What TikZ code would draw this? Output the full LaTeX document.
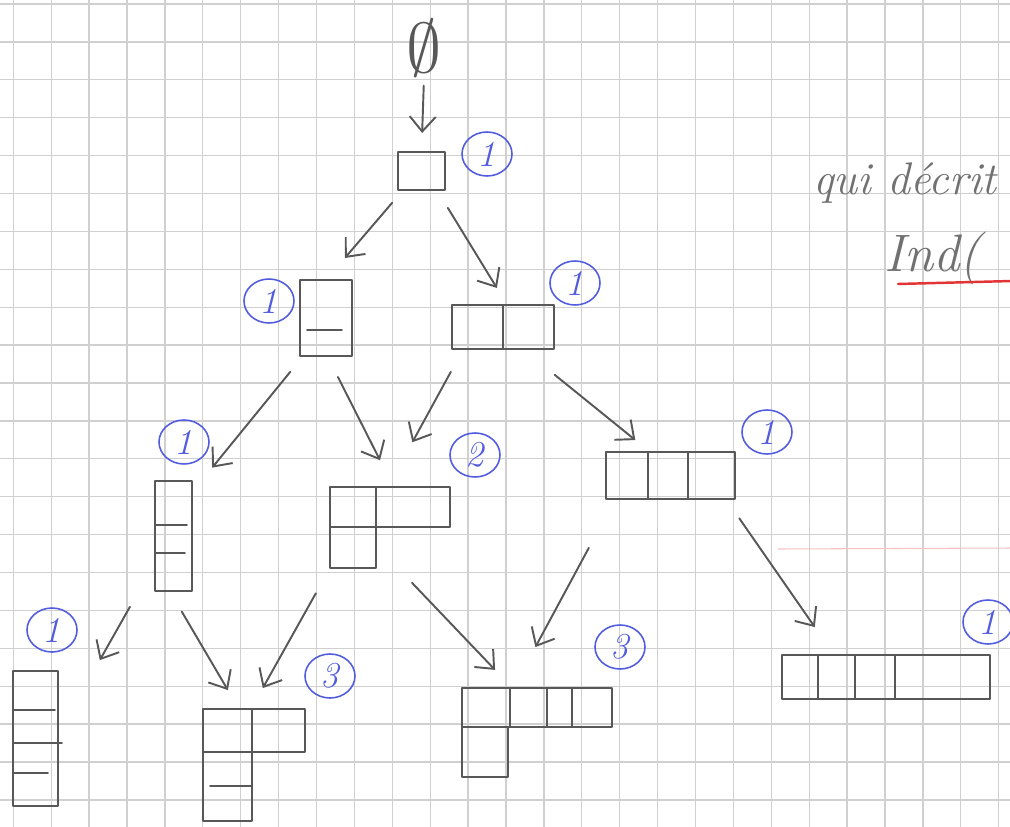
\documentclass[tikz,border=0pt]{standalone}
\usepackage{amsmath,amssymb}
\usepackage{xcolor}
\usepackage{tikz}
\usetikzlibrary{arrows.meta,positioning,calc,shapes.geometric}

\definecolor{pencil}{RGB}{88,88,88}
\definecolor{ink}{RGB}{82,92,222}
\definecolor{gridgray}{RGB}{208,208,208}
\definecolor{redpen}{RGB}{226,52,52}

\begin{document}
\begin{tikzpicture}[
  x=0.02cm, y=-0.02cm,
  >={Straight Barb[length=0.3cm, width=0.52cm]},
  pencil/.style={draw=pencil, line width=1.1pt, line cap=round, line join=round},
  diag/.style={rectangle, inner sep=0pt, outer sep=0pt},
  tag/.style={draw=ink, ellipse, line width=0.9pt, text=ink, inner sep=0pt, minimum width=1.0cm, minimum height=0.88cm, font=\huge\itshape},
  hand/.style={text=pencil!85, inner sep=0pt, font=\itshape\fontsize{26}{30}\selectfont},
  gridline/.style={draw=gridgray, line width=0.7pt}
]
\useasboundingbox (0,0) rectangle (1010,827);
\clip (0,0) rectangle (1010,827);
\fill[white] (0,0) rectangle (1010,827);

% squared paper
\foreach \i in {0,...,26} \draw[gridline] ({13.3+37.9*\i},0) -- ({13.3+37.9*\i},827);
\foreach \j in {0,...,21} \draw[gridline] (0,{4+37.9*\j}) -- (1010,{4+37.9*\j});

% diagrams
\node[scale=4, text=pencil, inner sep=0pt] (d0) at (424,48) {$\emptyset$};

\node[diag, minimum width=0.94cm, minimum height=0.76cm] (d1) at (421.5,171) {};
\draw[pencil] (398,152) rectangle (445,190);

\node[diag, minimum width=1.04cm, minimum height=1.52cm] (d11) at (326,318) {};
\draw[pencil] (300,280) rectangle (352,356) (307,330) -- (342,330);

\node[diag, minimum width=2.04cm, minimum height=0.88cm] (d2) at (503,327) {};
\draw[pencil] (452,305) rectangle (554,349) (503,305) -- (503,349);

\node[diag, minimum width=0.74cm, minimum height=2.2cm] (d111) at (173.5,536) {};
\draw[pencil] (155,481) rectangle (192,591) (155,525) -- (187,525) (155,553) -- (185,553);

\node[diag, minimum width=2.4cm, minimum height=1.62cm] (d21) at (390,527.5) {};
\draw[pencil] (330,487) rectangle (450,527) (376,487) -- (376,568)
  (330,527) -- (330,568) -- (376,568);

\node[diag, minimum width=2.58cm, minimum height=0.94cm] (d3) at (670.5,475.5) {};
\draw[pencil] (606,452) rectangle (735,499) (648,452) -- (648,499) (688,452) -- (688,499);

\node[diag, minimum width=0.9cm, minimum height=2.7cm] (d1111) at (35.5,738.5) {};
\draw[pencil] (13,671) rectangle (58,806) (13,710) -- (55,710) (13,743) -- (62,743)
  (13,773) -- (48,773);

\node[diag, minimum width=2.04cm, minimum height=2.24cm] (d211) at (254,765) {};
\draw[pencil] (203,709) rectangle (305,752) (252,709) -- (252,821)
  (203,752) -- (203,821) -- (252,821) (210,786) -- (252,786);

\node[diag, minimum width=3.0cm, minimum height=1.78cm] (d31) at (537,732.5) {};
\draw[pencil] (462,688) rectangle (612,727) (510,688) -- (510,727) (547,688) -- (547,727)
  (572,688) -- (572,727) (462,727) -- (462,777) -- (508,777) -- (508,727);

\node[diag, minimum width=4.16cm, minimum height=0.88cm] (d4) at (886,677) {};
\draw[pencil] (782,655) rectangle (990,699) (818,655) -- (818,699) (855,655) -- (855,699)
  (895,655) -- (895,699);

% circled multiplicities
\node[tag] (t1) at (487,154) {1};
\node[tag] (t11) at (269,301) {1};
\node[tag] (t2) at (575,283) {1};
\node[tag] (t111) at (184,442) {1};
\node[tag] (t21) at (475,455) {2};
\node[tag] (t3) at (767,432) {1};
\node[tag] (t1111) at (52,630) {1};
\node[tag] (t211) at (330,676) {3};
\node[tag] (t31) at (620,647) {3};
\node[tag] (t4) at (988,622) {1};

% arrows
\draw[->, pencil, shorten <=0.16cm, shorten >=0.38cm] (d0.south) -- (d1.north);
\draw[->, pencil, shorten <=0.34cm, shorten >=0.58cm] (d1.-134) -- (d11.north);
\draw[->, pencil, shorten <=0.42cm, shorten >=0.4cm] (d1.-51) -- (d2.79);
\draw[->, pencil, shorten <=0.41cm, shorten >=0.64cm] (d11.-121) -- (d111.67);
\draw[->, pencil, shorten <=0.47cm, shorten >=0.6cm] (d11.-88) -- (d21.85);
\draw[->, pencil, shorten <=0.52cm, shorten >=1.02cm] (d2.-151) -- (d21.93);
\draw[->, pencil, shorten <=0.82cm, shorten >=0.38cm] (d2.-48) -- (d3.131);
\draw[->, pencil, shorten <=1.02cm, shorten >=1.7cm] (d111.-125) -- (d1111.11);
\draw[->, pencil, shorten <=0.48cm, shorten >=0.44cm] (d111.-94) -- (d211.105);
\draw[->, pencil, shorten <=0.58cm, shorten >=0.48cm] (d21.-146) -- (d211.93);
\draw[->, pencil, shorten <=0.41cm, shorten >=0.5cm] (d21.-79) -- (d31.119);
\draw[->, pencil, shorten <=1.11cm, shorten >=0.93cm] (d3.-157) -- (d31.118);
\draw[->, pencil, shorten <=0.47cm, shorten >=0.68cm] (d3.-23) -- (d4.157);

% side note
\node[hand] (qui) at (905,183) {qui décrit};
\node[hand, anchor=west, font=\itshape\fontsize{30}{34}\selectfont] (ind) at (884,258) {Ind(};
\draw[redpen, line width=1.4pt, line cap=round] (898,284) -- (1012,281);
\draw[redpen!30, line width=0.6pt] (778,549) -- (1012,548);
\end{tikzpicture}
\end{document}
